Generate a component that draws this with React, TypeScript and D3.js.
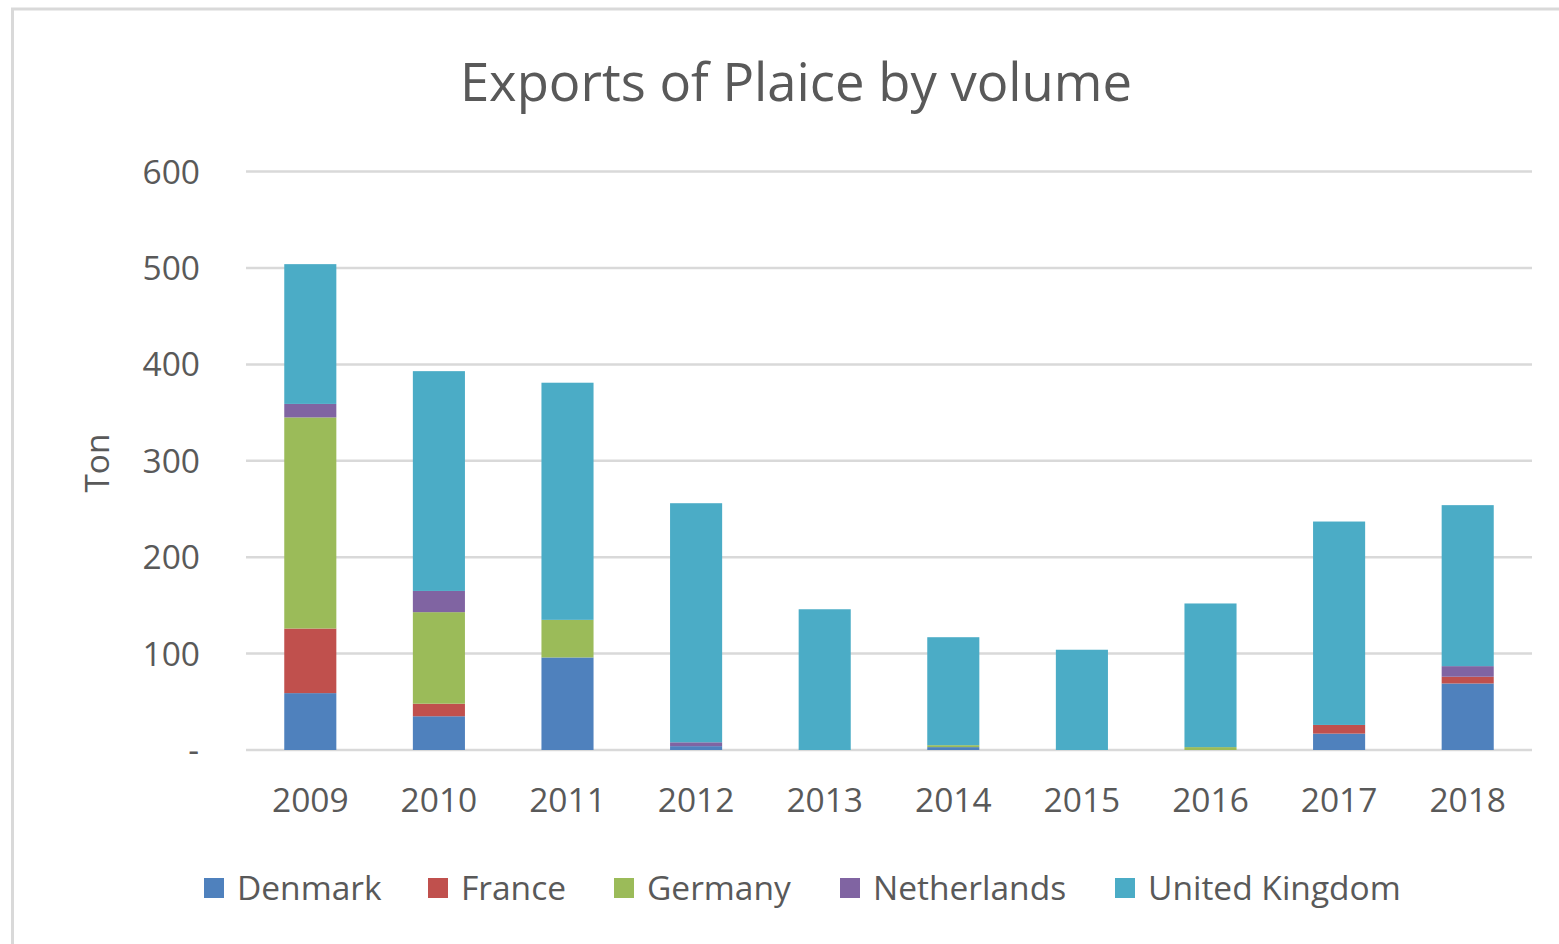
import React from "react";
import * as d3 from "d3";

const years = ["2009", "2010", "2011", "2012", "2013", "2014", "2015", "2016", "2017", "2018"];
const seriesNames = ["Denmark", "France", "Germany", "Netherlands", "United Kingdom"];
const denmark = [59, 35, 96, 4, 0, 3, 0, 0, 17, 69];
const france = [67, 13, 0, 0, 0, 0, 0, 0, 9, 7];
const germany = [219, 95, 39, 0, 0, 2, 0, 3, 0, 0];
const netherlands = [14, 22, 0, 4, 0, 0, 0, 0, 0, 11];
const unitedKingdom = [145, 228, 246, 248, 146, 112, 104, 149, 211, 167];
const yTicks = [0, 100, 200, 300, 400, 500, 600];
const colors = ["#4F81BD", "#C0504D", "#9BBB59", "#8064A2", "#4BACC6"];

const W = 1559;
const H = 944;
const FONT = "'Open Sans', sans-serif";
const TEXT = "#595959";
const GRID = "#D9D9D9";

export default function App() {
  const rows = years.map((y, i) => ({
    year: y,
    Denmark: denmark[i],
    France: france[i],
    Germany: germany[i],
    Netherlands: netherlands[i],
    "United Kingdom": unitedKingdom[i],
  }));
  const stacked = d3.stack<any>().keys(seriesNames)(rows);

  const x = d3.scaleBand<string>().domain(years).range([246, 1532]).paddingInner(0.595).paddingOuter(0.2975);
  const y = d3.scaleLinear().domain([0, 600]).range([750, 171.6]);

  const legendX = [204, 428, 614, 840, 1115];

  return (
    <div style={{ position: "absolute", left: 0, top: 0, width: W, height: H, overflow: "hidden", background: "#fff" }}>
      <svg width={W} height={H} style={{ display: "block" }}>
        <rect x={0} y={0} width={W} height={H} fill="#fff" />
        <rect x={12.5} y={9} width={W + 100} height={H + 100} fill="none" stroke={GRID} strokeWidth={3} />
        <text x={796} y={101} textAnchor="middle" fontFamily={FONT} fontSize={52.6} fill={TEXT}>
          Exports of Plaice by volume
        </text>
        {yTicks.map((t) => (
          <g key={t}>
            <line x1={246} x2={1532} y1={y(t)} y2={y(t)} stroke={GRID} strokeWidth={2.5} />
            <text x={t === 0 ? 199 : 200} y={y(t) + 12} textAnchor="end" fontFamily={FONT} fontSize={33.5} fill={TEXT}>
              {t === 0 ? "-" : d3.format("d")(t)}
            </text>
          </g>
        ))}
        <text transform="translate(109,463) rotate(-90)" textAnchor="middle" fontFamily={FONT} fontSize={33.5} fill={TEXT}>
          Ton
        </text>
        {stacked.map((s, si) => (
          <g key={s.key} fill={colors[si]}>
            {s.map((d, i) =>
              d[1] - d[0] > 0 ? (
                <rect key={i} x={x(years[i])!} width={x.bandwidth()} y={y(d[1])} height={y(d[0]) - y(d[1])} />
              ) : null
            )}
          </g>
        ))}
        {years.map((yr) => (
          <text key={yr} x={x(yr)! + x.bandwidth() / 2} y={812} textAnchor="middle" fontFamily={FONT} fontSize={33.5} fill={TEXT}>
            {yr}
          </text>
        ))}
        {seriesNames.map((n, i) => (
          <g key={n}>
            <rect x={legendX[i]} y={878} width={20} height={20} fill={colors[i]} />
            <text x={legendX[i] + 33} y={900} fontFamily={FONT} fontSize={33.5} fill={TEXT}>
              {n}
            </text>
          </g>
        ))}
      </svg>
    </div>
  );
}
